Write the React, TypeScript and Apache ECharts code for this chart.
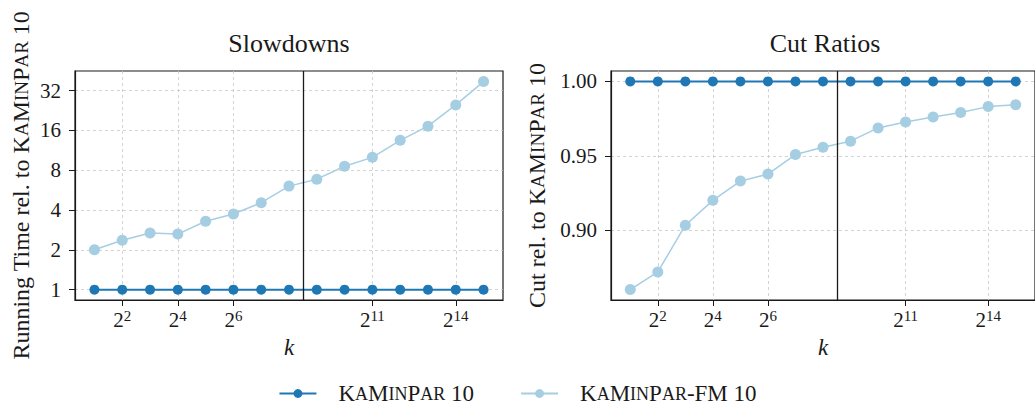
import React, { useEffect, useRef } from "react";
import * as echarts from "echarts";

const kExp = [1, 2, 3, 4, 5, 6, 7, 8, 9, 10, 11, 12, 13, 14, 15];
const slowKa = [1, 1, 1, 1, 1, 1, 1, 1, 1, 1, 1, 1, 1, 1, 1];
const slowFM = [2.0, 2.36, 2.68, 2.63, 3.29, 3.73, 4.54, 6.06, 6.84, 8.57, 10.0, 13.45, 17.2, 24.9, 37.4];
const cutKa = [1, 1, 1, 1, 1, 1, 1, 1, 1, 1, 1, 1, 1, 1, 1];
const cutFM = [0.8603, 0.8721, 0.9035, 0.9202, 0.9331, 0.9378, 0.9509, 0.9558, 0.9599, 0.9688, 0.9728, 0.9761, 0.9791, 0.9831, 0.9844];
const xTickExp = [2, 4, 6, 11, 14];
const slowTicks = [1, 2, 4, 8, 16, 32];
const cutTicks = [0.9, 0.95, 1.0];
const splitExp = 8.5;

const FONT = "Liberation Serif";
const INK = "#1a1a1a";
const DARK = "#1f78b4";
const LIGHT = "#a6cee3";
const SC = "{c|K}{s|A}{c|M}{s|IN}{c|P}{s|AR}";

function scRich(size: number) {
  return {
    t: { fontSize: size, fontFamily: FONT, color: INK },
    c: { fontSize: size, fontFamily: FONT, color: INK },
    s: { fontSize: Math.round(size * 0.8), fontFamily: FONT, color: INK },
  };
}

const tickRich = { t: { fontSize: 21, fontFamily: FONT, color: INK } };

export default function App() {
  const ref = useRef<HTMLDivElement>(null);
  useEffect(() => {
    if (!ref.current) return;
    const chart = echarts.init(ref.current, null, { renderer: "svg" });
    const xAxisBase = (gridIndex: number) => ({
      type: "value",
      gridIndex,
      min: 0.3,
      max: 15.7,
      name: "{i|k}",
      nameLocation: "middle",
      nameGap: 36,
      nameTextStyle: {
        fontFamily: FONT,
        fontStyle: "italic",
        fontSize: 23,
        color: INK,
        rich: { i: { fontFamily: FONT, fontStyle: "italic", fontSize: 23, color: INK } },
      },
      axisLine: { show: true, lineStyle: { color: INK, width: 1.2 } },
      axisTick: { show: true, length: 6, customValues: xTickExp, lineStyle: { color: INK, width: 1 } },
      axisLabel: {
        customValues: xTickExp,
        margin: 8,
        formatter: (v: number) => `{b|2}{s|${v}}`,
        rich: {
          b: { fontSize: 21, fontFamily: FONT, color: INK, lineHeight: 22, verticalAlign: "bottom" },
          s: { fontSize: 15, fontFamily: FONT, color: INK, lineHeight: 14, verticalAlign: "top" },
        },
      },
      splitLine: { show: true, lineStyle: { color: "#c8c8c8", type: [3, 3], width: 0.8 } },
    });
    const dataOf = (ys: number[]) => kExp.map((k, i) => [k, ys[i]]);
    const vline = {
      silent: true,
      symbol: ["none", "none"],
      label: { show: false },
      lineStyle: { color: INK, width: 1.3, type: "solid" },
      data: [{ xAxis: splitExp }],
    };
    const titleStyle = {
      fontFamily: FONT,
      fontSize: 26,
      fontWeight: "normal",
      color: INK,
      rich: { t: { fontFamily: FONT, fontSize: 26, fontWeight: "normal", color: INK } },
    };
    const option = {
      animation: false,
      backgroundColor: "#ffffff",
      textStyle: { fontFamily: FONT },
      title: [
        { text: "{t|Slowdowns}", left: 284, top: 25, textAlign: "center", textStyle: titleStyle },
        { text: "{t|Cut Ratios}", left: 820, top: 25, textAlign: "center", textStyle: titleStyle },
      ],
      legend: {
        data: ["KaMinPar 10", "KaMinPar-FM 10"],
        left: "center",
        top: 377,
        itemWidth: 37,
        itemHeight: 11,
        itemGap: 46,
        formatter: (name: string) => (name === "KaMinPar 10" ? `${SC}{t| 10}` : `${SC}{t|-FM 10}`),
        textStyle: { fontFamily: FONT, fontSize: 23, color: INK, padding: [0, 0, 0, 17], rich: scRich(23) },
      },
      grid: [
        { left: 75, top: 71, width: 428, height: 229, show: true, borderColor: INK, borderWidth: 1.2, backgroundColor: "transparent" },
        { left: 611, top: 71, width: 427, height: 229, show: true, borderColor: INK, borderWidth: 1.2, backgroundColor: "transparent" },
      ],
      xAxis: [xAxisBase(0), xAxisBase(1)],
      yAxis: [
        {
          type: "log",
          logBase: 2,
          gridIndex: 0,
          min: Math.pow(2, -0.26),
          max: Math.pow(2, 5.49),
          name: `{t|Running Time rel. to }${SC}{t| 10}`,
          nameLocation: "middle",
          nameGap: 42,
          nameTextStyle: { fontFamily: FONT, fontSize: 24, color: INK, rich: scRich(24) },
          axisLine: { show: true, lineStyle: { color: INK, width: 1.2 } },
          axisTick: { show: true, length: 6, customValues: slowTicks, lineStyle: { color: INK, width: 1 } },
          axisLabel: {
            customValues: slowTicks,
            margin: 14,
            fontFamily: FONT,
            fontSize: 21,
            color: INK,
            rich: tickRich,
            formatter: (v: number) => `{t|${Math.round(v)}}`,
          },
          splitLine: { show: true, lineStyle: { color: "#c8c8c8", type: [3, 3], width: 0.8 } },
        },
        {
          type: "value",
          gridIndex: 1,
          min: 0.8533,
          max: 1.007,
          name: `{t|Cut rel. to }${SC}{t| 10}`,
          nameLocation: "middle",
          nameGap: 62,
          nameTextStyle: { fontFamily: FONT, fontSize: 24, color: INK, rich: scRich(24) },
          axisLine: { show: true, lineStyle: { color: INK, width: 1.2 } },
          axisTick: { show: true, length: 6, customValues: cutTicks, lineStyle: { color: INK, width: 1 } },
          axisLabel: {
            customValues: cutTicks,
            margin: 14,
            fontFamily: FONT,
            fontSize: 21,
            color: INK,
            rich: tickRich,
            formatter: (v: number) => `{t|${v.toFixed(2)}}`,
          },
          splitLine: { show: true, lineStyle: { color: "#c8c8c8", type: [3, 3], width: 0.8 } },
        },
      ],
      series: [
        {
          name: "KaMinPar-FM 10",
          type: "line",
          xAxisIndex: 0,
          yAxisIndex: 0,
          data: dataOf(slowFM),
          symbol: "circle",
          symbolSize: 11,
          itemStyle: { color: LIGHT },
          lineStyle: { color: LIGHT, width: 1.5 },
          markLine: vline,
          z: 2,
        },
        {
          name: "KaMinPar 10",
          type: "line",
          xAxisIndex: 0,
          yAxisIndex: 0,
          data: dataOf(slowKa),
          symbol: "circle",
          symbolSize: 10,
          itemStyle: { color: DARK },
          lineStyle: { color: DARK, width: 2 },
          z: 3,
        },
        {
          name: "KaMinPar-FM 10",
          type: "line",
          xAxisIndex: 1,
          yAxisIndex: 1,
          data: dataOf(cutFM),
          symbol: "circle",
          symbolSize: 11,
          itemStyle: { color: LIGHT },
          lineStyle: { color: LIGHT, width: 1.5 },
          markLine: vline,
          z: 2,
        },
        {
          name: "KaMinPar 10",
          type: "line",
          xAxisIndex: 1,
          yAxisIndex: 1,
          data: dataOf(cutKa),
          symbol: "circle",
          symbolSize: 10,
          itemStyle: { color: DARK },
          lineStyle: { color: DARK, width: 2 },
          z: 3,
        },
      ],
    };
    chart.setOption(option as any);
    return () => chart.dispose();
  }, []);
  return (
    <div
      ref={ref}
      style={{ position: "fixed", left: 0, top: 0, width: 1035, height: 408, background: "#fff" }}
    />
  );
}
